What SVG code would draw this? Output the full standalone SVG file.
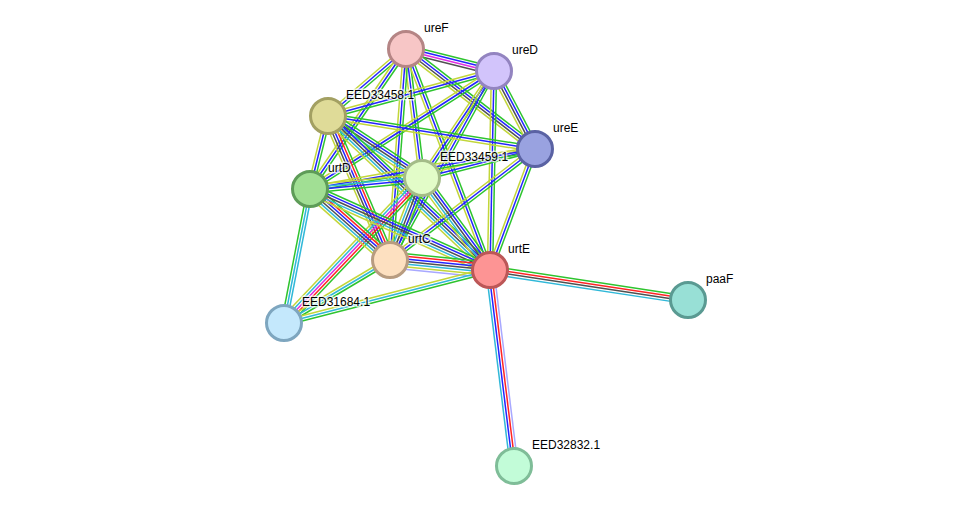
<svg xmlns="http://www.w3.org/2000/svg" xmlns:xlink="http://www.w3.org/1999/xlink" width="976" height="512" viewBox="0 0 976 512">
<style>
.e line{vector-effect:non-scaling-stroke;stroke-width:1.5;fill:none}
.g{stroke:#2ec42e}.r{stroke:#ff2424}.b{stroke:#2424ff}.k{stroke:#505050}.m{stroke:#e02ee0}.c{stroke:#30b8d8}.y{stroke:#c2d63a}.l{stroke:#a8a8ff}
.n circle{stroke-width:3}
.n text{font-family:"Liberation Sans",Arial,sans-serif;font-size:12px;fill:#000;stroke:#fff;stroke-opacity:0.7;stroke-width:3;paint-order:stroke;stroke-linejoin:round}
</style>
<defs>
<g id="gby" class="e"><line class="g" x1="0" x2="1" y1="-2.6" y2="-2.6"/><line class="b" x1="0" x2="1" y1="0" y2="0"/><line class="y" x1="0" x2="1" y1="2.6" y2="2.6"/></g>
<g id="gbmk" class="e"><line class="g" x1="0" x2="1" y1="-3.9" y2="-3.9"/><line class="b" x1="0" x2="1" y1="-1.3" y2="-1.3"/><line class="m" x1="0" x2="1" y1="1.3" y2="1.3"/><line class="k" x1="0" x2="1" y1="3.9" y2="3.9"/></g>
<g id="gbky" class="e"><line class="g" x1="0" x2="1" y1="-3.9" y2="-3.9"/><line class="b" x1="0" x2="1" y1="-1.3" y2="-1.3"/><line class="k" x1="0" x2="1" y1="1.3" y2="1.3"/><line class="y" x1="0" x2="1" y1="3.9" y2="3.9"/></g>
<g id="gbcy" class="e"><line class="g" x1="0" x2="1" y1="-3.9" y2="-3.9"/><line class="b" x1="0" x2="1" y1="-1.3" y2="-1.3"/><line class="c" x1="0" x2="1" y1="1.3" y2="1.3"/><line class="y" x1="0" x2="1" y1="3.9" y2="3.9"/></g>
<g id="gbkcy" class="e"><line class="g" x1="0" x2="1" y1="-5.2" y2="-5.2"/><line class="b" x1="0" x2="1" y1="-2.6" y2="-2.6"/><line class="k" x1="0" x2="1" y1="0" y2="0"/><line class="c" x1="0" x2="1" y1="2.6" y2="2.6"/><line class="y" x1="0" x2="1" y1="5.2" y2="5.2"/></g>
<g id="grbky" class="e"><line class="g" x1="0" x2="1" y1="-5.2" y2="-5.2"/><line class="r" x1="0" x2="1" y1="-2.6" y2="-2.6"/><line class="b" x1="0" x2="1" y1="0" y2="0"/><line class="k" x1="0" x2="1" y1="2.6" y2="2.6"/><line class="y" x1="0" x2="1" y1="5.2" y2="5.2"/></g>
<g id="grmcy" class="e"><line class="g" x1="0" x2="1" y1="-5.2" y2="-5.2"/><line class="r" x1="0" x2="1" y1="-2.6" y2="-2.6"/><line class="m" x1="0" x2="1" y1="0" y2="0"/><line class="c" x1="0" x2="1" y1="2.6" y2="2.6"/><line class="y" x1="0" x2="1" y1="5.2" y2="5.2"/></g>
<g id="grbkcy" class="e"><line class="g" x1="0" x2="1" y1="-6.5" y2="-6.5"/><line class="r" x1="0" x2="1" y1="-3.9" y2="-3.9"/><line class="b" x1="0" x2="1" y1="-1.3" y2="-1.3"/><line class="k" x1="0" x2="1" y1="1.3" y2="1.3"/><line class="c" x1="0" x2="1" y1="3.9" y2="3.9"/><line class="y" x1="0" x2="1" y1="6.5" y2="6.5"/></g>
<g id="grbkcyl" class="e"><line class="g" x1="0" x2="1" y1="-7.8" y2="-7.8"/><line class="r" x1="0" x2="1" y1="-5.2" y2="-5.2"/><line class="b" x1="0" x2="1" y1="-2.6" y2="-2.6"/><line class="k" x1="0" x2="1" y1="0" y2="0"/><line class="c" x1="0" x2="1" y1="2.6" y2="2.6"/><line class="y" x1="0" x2="1" y1="5.2" y2="5.2"/><line class="l" x1="0" x2="1" y1="7.8" y2="7.8"/></g>
<g id="ccg" class="e"><line class="c" x1="0" x2="1" y1="-2.6" y2="-2.6"/><line class="c" x1="0" x2="1" y1="0" y2="0"/><line class="g" x1="0" x2="1" y1="2.6" y2="2.6"/></g>
<g id="gcy" class="e"><line class="g" x1="0" x2="1" y1="-2.6" y2="-2.6"/><line class="c" x1="0" x2="1" y1="0" y2="0"/><line class="y" x1="0" x2="1" y1="2.6" y2="2.6"/></g>
<g id="grkc" class="e"><line class="g" x1="0" x2="1" y1="-3.9" y2="-3.9"/><line class="r" x1="0" x2="1" y1="-1.3" y2="-1.3"/><line class="k" x1="0" x2="1" y1="1.3" y2="1.3"/><line class="c" x1="0" x2="1" y1="3.9" y2="3.9"/></g>
<g id="cbrl" class="e"><line class="c" x1="0" x2="1" y1="3.9" y2="3.9"/><line class="b" x1="0" x2="1" y1="1.3" y2="1.3"/><line class="r" x1="0" x2="1" y1="-1.3" y2="-1.3"/><line class="l" x1="0" x2="1" y1="-3.9" y2="-3.9"/></g>
</defs>
<rect width="976" height="512" fill="#fff"/>
<g id="edges">
<use href="#gbmk" transform="translate(406,49) rotate(14.04) scale(90.71,1)"/>
<use href="#gby" transform="translate(406,49) rotate(139.34) scale(102.83,1)"/>
<use href="#gbky" transform="translate(406,49) rotate(37.78) scale(163.22,1)"/>
<use href="#gby" transform="translate(406,49) rotate(82.93) scale(129.99,1)"/>
<use href="#gby" transform="translate(406,49) rotate(124.44) scale(169.75,1)"/>
<use href="#gby" transform="translate(406,49) rotate(94.34) scale(211.61,1)"/>
<use href="#gby" transform="translate(406,49) rotate(69.19) scale(236.43,1)"/>
<use href="#gby" transform="translate(494,71) rotate(164.83) scale(171.99,1)"/>
<use href="#gbky" transform="translate(494,71) rotate(62.27) scale(88.12,1)"/>
<use href="#gby" transform="translate(494,71) rotate(123.94) scale(128.97,1)"/>
<use href="#gby" transform="translate(494,71) rotate(147.33) scale(218.59,1)"/>
<use href="#gby" transform="translate(494,71) rotate(118.82) scale(215.72,1)"/>
<use href="#gby" transform="translate(494,71) rotate(91.15) scale(199.04,1)"/>
<use href="#gby" transform="translate(328,116) rotate(9.06) scale(209.61,1)"/>
<use href="#gbkcy" transform="translate(328,116) rotate(33.41) scale(112.61,1)"/>
<use href="#gby" transform="translate(328,116) rotate(103.85) scale(75.19,1)"/>
<use href="#grbky" transform="translate(328,116) rotate(66.70) scale(156.78,1)"/>
<use href="#gbkcy" transform="translate(328,116) rotate(43.55) scale(223.52,1)"/>
<use href="#gby" transform="translate(535,149) rotate(165.61) scale(116.66,1)"/>
<use href="#gby" transform="translate(535,149) rotate(169.92) scale(228.53,1)"/>
<use href="#gby" transform="translate(535,149) rotate(142.56) scale(182.61,1)"/>
<use href="#gby" transform="translate(535,149) rotate(110.40) scale(129.10,1)"/>
<use href="#gbcy" transform="translate(422,178) rotate(174.39) scale(112.54,1)"/>
<use href="#gbkcy" transform="translate(422,178) rotate(111.31) scale(88.02,1)"/>
<use href="#gbkcy" transform="translate(422,178) rotate(53.53) scale(114.40,1)"/>
<use href="#grmcy" transform="translate(422,178) rotate(133.59) scale(200.17,1)"/>
<use href="#grbkcy" transform="translate(310,189) rotate(41.59) scale(106.96,1)"/>
<use href="#gbkcy" transform="translate(310,189) rotate(24.23) scale(197.39,1)"/>
<use href="#ccg" transform="translate(310,189) rotate(100.98) scale(136.50,1)"/>
<use href="#grbkcyl" transform="translate(390,260) rotate(5.71) scale(100.50,1)"/>
<use href="#gcy" transform="translate(390,260) rotate(149.27) scale(123.31,1)"/>
<use href="#gcy" transform="translate(490,270) rotate(165.57) scale(212.71,1)"/>
<use href="#grkc" transform="translate(490,270) rotate(8.62) scale(200.26,1)"/>
<use href="#cbrl" transform="translate(490,270) rotate(83.02) scale(197.46,1)"/>
</g>
<g id="ureF" class="n"><circle cx="406" cy="49" r="17.5" fill="#f7c6c6" stroke="#b58585"/><text x="424" y="32">ureF</text></g>
<g id="ureD" class="n"><circle cx="494" cy="71" r="17.5" fill="#d2c4fb" stroke="#9384c0"/><text x="512" y="54">ureD</text></g>
<g id="EED33458.1" class="n"><circle cx="328" cy="116" r="17.5" fill="#dfdb98" stroke="#a3a062"/><text x="346" y="99">EED33458.1</text></g>
<g id="ureE" class="n"><circle cx="535" cy="149" r="17.5" fill="#99a2e0" stroke="#5a62a3"/><text x="553" y="132">ureE</text></g>
<g id="EED33459.1" class="n"><circle cx="422" cy="178" r="17.5" fill="#e2fcc8" stroke="#a4bc88"/><text x="440" y="161">EED33459.1</text></g>
<g id="urtD" class="n"><circle cx="310" cy="189" r="17.5" fill="#a1df94" stroke="#5e9c58"/><text x="328" y="172">urtD</text></g>
<g id="urtC" class="n"><circle cx="390" cy="260" r="17.5" fill="#fde0c0" stroke="#b89c80"/><text x="408" y="243">urtC</text></g>
<g id="urtE" class="n"><circle cx="490" cy="270" r="17.5" fill="#fd9494" stroke="#bc5757"/><text x="508" y="253">urtE</text></g>
<g id="paaF" class="n"><circle cx="688" cy="300" r="17.5" fill="#98e0d6" stroke="#5a9a92"/><text x="706" y="283">paaF</text></g>
<g id="EED31684.1" class="n"><circle cx="284" cy="323" r="17.5" fill="#c4e8fc" stroke="#7ea6bf"/><text x="302" y="306">EED31684.1</text></g>
<g id="EED32832.1" class="n"><circle cx="514" cy="466" r="17.5" fill="#c2fcd8" stroke="#7fbd98"/><text x="532" y="449">EED32832.1</text></g>
</svg>
